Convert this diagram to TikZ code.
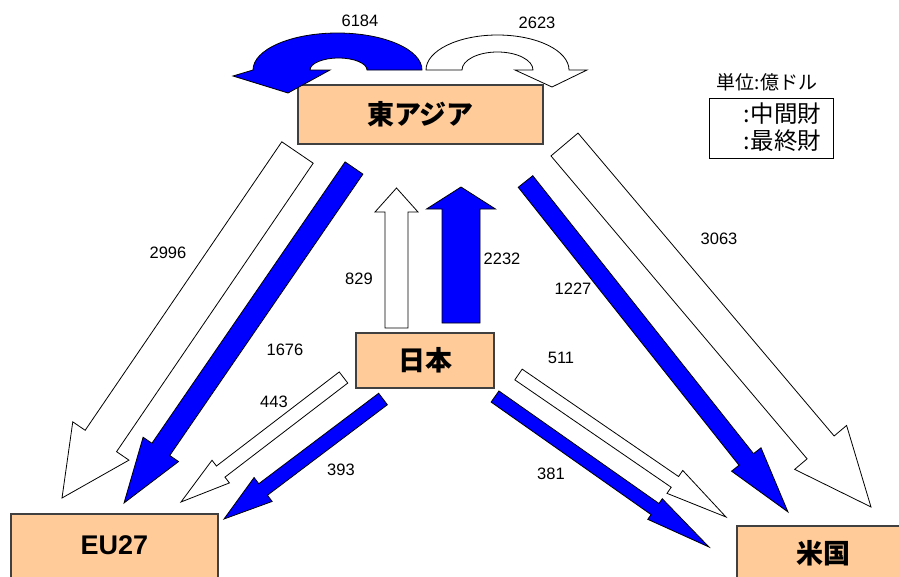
\documentclass[tikz,border=0pt]{standalone}
\usepackage{fontspec}
\setmainfont{Liberation Sans}
\newfontfamily\jp{Noto Sans CJK JP}
\definecolor{peach}{RGB}{255,204,153}
\definecolor{flowblue}{RGB}{0,0,255}
\definecolor{boxline}{RGB}{64,64,64}
% #1 style, (#2,#3) tail centre, (#4,#5) tip, #6 shaft half width, #7 head half width, #8 head length
\newcommand\blockarrow[8]{%
  \pgfmathsetmacro\bdx{#4-#2}%
  \pgfmathsetmacro\bdy{#5-#3}%
  \pgfmathsetmacro\blen{veclen(\bdx,\bdy)}%
  \pgfmathsetmacro\bang{atan2(-\bdy,\bdx)}%
  \pgfmathsetmacro\bhb{\blen-#8}%
  \draw[#1, shift={(#2,#3)}, rotate=\bang]
    (0,-#6) -- (\bhb,-#6) -- (\bhb,-#7) -- (\blen,0) -- (\bhb,#7) -- (\bhb,#6) -- (0,#6) -- cycle;
}
\begin{document}
\begin{tikzpicture}[x=1pt,y=-1pt,
  region/.style={draw=boxline, line width=1.2pt, fill=peach, inner sep=0pt},
  regiontext/.style={font=\jp\bfseries\fontsize{27}{30}\selectfont},
  interm/.style={draw=black, line width=0.8pt, fill=white, line join=miter},
  final/.style={draw=black, line width=0.8pt, fill=flowblue, line join=miter},
  num/.style={font=\fontsize{16.5}{18}\selectfont, inner sep=0pt},
  legtext/.style={font=\jp\fontsize{23.5}{26}\selectfont, inner sep=0pt, anchor=west}]
\useasboundingbox (0,0) rectangle (899,576);
\clip (0,0) rectangle (899,576);

% region boxes
\node[region, minimum width=245pt, minimum height=59pt] (ea) at (420.5,114.5) {};
\node[regiontext] (eat) at (ea.center) {東アジア};
\node[region, minimum width=138pt, minimum height=55pt] (jp) at (425,360.5) {};
\node[regiontext] (jpt) at (jp.center) {日本};
\node[region, minimum width=207pt, minimum height=66pt] (eu) at (114.5,547) {};
\node[font=\bfseries\fontsize{27}{30}\selectfont] (eut) at (114.5,545) {EU27};
\node[region, minimum width=168pt, minimum height=60pt] (us) at (821,556) {};
\node[regiontext] (ust) at (823,553) {米国};

% top U-turn arrows (within East Asia)
\draw[final]
  (422,70) arc[start angle=0, end angle=-180, x radius=84.5, y radius=37]
  -- (233,76) -- (288,93) -- (330,70) -- (310,70)
  arc[start angle=-180, end angle=0, x radius=28.5, y radius=12] -- cycle;
\draw[interm]
  (426,70) arc[start angle=180, end angle=360, x radius=71.5, y radius=35]
  -- (587,70) -- (552,87) -- (515,70) -- (533,70)
  arc[start angle=0, end angle=-180, x radius=35.5, y radius=18] -- cycle;
\node[num] (l6184) at (360,21) {6184};
\node[num] (l2623) at (537,23) {2623};

% East Asia -> EU27
\blockarrow{interm}{297.5}{152.5}{62}{498}{19}{34}{69}
\blockarrow{final}{354}{168}{124}{503}{10.8}{21.5}{65}
% Japan -> EU27
\blockarrow{interm}{343.5}{377.5}{181}{502}{7}{14.3}{50}
\blockarrow{final}{383}{399}{224}{519}{7.2}{15}{49}
% Japan -> East Asia
\blockarrow{interm}{396.5}{328}{396.5}{188}{11.5}{21.5}{24}
\blockarrow{final}{461}{323}{461}{187}{19}{34.5}{22}
% East Asia -> US
\blockarrow{interm}{564.5}{144.5}{871}{507}{17.7}{34}{78}
\blockarrow{final}{525.5}{181.5}{788}{512}{9.3}{18.8}{67}
% Japan -> US
\blockarrow{interm}{518.5}{374.5}{726}{517}{6.5}{13.9}{62}
\blockarrow{final}{495}{396.5}{709}{547}{6.8}{12.6}{66}

% value labels
\node[num] (l2996) at (168,253) {2996};
\node[num] (l1676) at (285,350) {1676};
\node[num] (l443) at (274,402) {443};
\node[num] (l393) at (341,470) {393};
\node[num] (l829) at (359,279) {829};
\node[num] (l2232) at (502,259) {2232};
\node[num] (l3063) at (719,239) {3063};
\node[num] (l1227) at (573,289) {1227};
\node[num] (l511) at (561,358) {511};
\node[num] (l381) at (551,474) {381};

% legend
\node[font=\jp\fontsize{19}{21}\selectfont, inner sep=0pt] (unit) at (767,82) {単位:億ドル};
\node[draw=black, line width=0.9pt, minimum width=124pt, minimum height=60pt, inner sep=0pt] (leg) at (771,128) {};
\node[legtext] (legi) at (743,114) {:\hspace{1pt}中間財};
\node[legtext] (legf) at (743,141) {:\hspace{1pt}最終財};
\end{tikzpicture}
\end{document}
